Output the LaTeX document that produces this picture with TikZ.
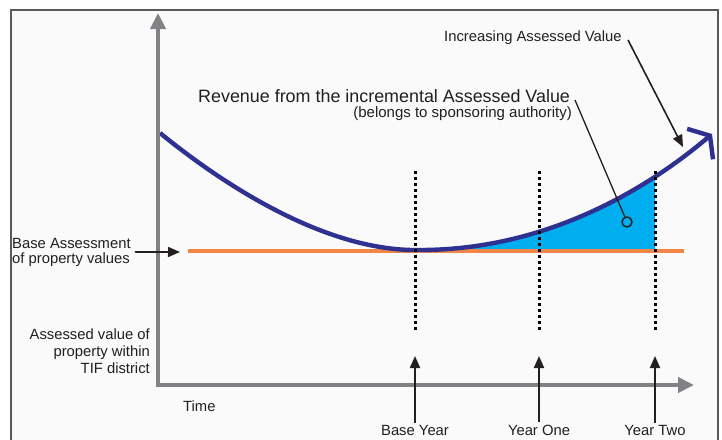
\documentclass[tikz,border=0pt]{standalone}
\usepackage{fontspec}
\setmainfont{Liberation Sans}
\usetikzlibrary{arrows.meta}

\definecolor{schrift}{RGB}{35,31,32}
\definecolor{achsgrau}{RGB}{128,130,133}
\definecolor{rahmengrau}{RGB}{90,90,92}
\definecolor{hinter}{RGB}{250,250,250}
\definecolor{orange}{RGB}{241,134,70}
\definecolor{navy}{RGB}{46,49,146}
\definecolor{cyanblau}{RGB}{0,174,239}

\begin{document}
\begin{tikzpicture}[x=1pt, y=-1pt,
    txt/.style={font=\fontsize{14.8}{15}\selectfont, text=schrift, inner sep=0pt},
    zeiger/.style={draw=schrift, line width=1.6pt, -{Triangle[length=12pt,width=10pt]}},
    achse/.style={draw=achsgrau, line width=4pt,
        {Triangle[length=16pt,width=15pt]}-{Triangle[length=16pt,width=15pt]}},
    punkt/.style={draw=black, line width=3pt, dash pattern=on 3pt off 3pt},
    kurve/.style={draw=navy, line width=4.4pt,
        -{Straight Barb[length=13pt,width=40pt,line width=4.4pt]}},
    marke/.style={circle, draw=schrift, line width=1.4pt, fill=cyanblau,
        minimum size=10pt, inner sep=0pt}]

    % 1. Rahmen und Hintergrund
    \useasboundingbox (0,0) rectangle (722,439);
    \fill[hinter] (11,10) rectangle (718,440);
    \draw[rahmengrau, line width=1.8pt] (11,445) -- (11,10) -- (718,10) -- (718,445);

    % 2. Eckpunkte der Achsen und der Kurve
    \coordinate (O) at (158,385);
    \coordinate (Y) at (158,13);
    \coordinate (X) at (694,385);
    \coordinate (L) at (188,251);
    \coordinate (R) at (684,251);
    \coordinate (M) at (420,250);
    \coordinate (E) at (712,134);

    % Jahre: oberes/unteres Ende der Punktlinie, Pfeilspitze
    \coordinate (J0o) at (415,171); \coordinate (J0u) at (415,331); \coordinate (J0p) at (415,356);
    \coordinate (J1o) at (539,171); \coordinate (J1u) at (539,331); \coordinate (J1p) at (539,356);
    \coordinate (J2o) at (655,171); \coordinate (J2u) at (655,331); \coordinate (J2p) at (655,356);

    % 3. Zuwachsflaeche zwischen Basislinie und Kurve
    \begin{scope}
        \clip (M) rectangle (655,120);
        \fill[cyanblau] (M) .. controls (540,250) and (640,195) .. (E) -- (712,251) -- (420,251) -- cycle;
    \end{scope}

    % Basislinie und Kurve
    \draw[orange, line width=3.6pt] (L) -- (R);
    \draw[kurve] (160,133) .. controls (230,190) and (330,252) .. (M)
        .. controls (540,250) and (640,195) .. (E);

    % Punktlinien der Jahre
    \draw[punkt] (J0o) -- (J0u);
    \draw[punkt] (J1o) -- (J1u);
    \draw[punkt] (J2o) -- (J2u);

    % Achsen
    \draw[achse] (Y) -- (O) -- (X);

    % 4. Beschriftungen
    \node[txt, anchor=base west] (inc) at (444,41) {Increasing Assessed Value};
    \coordinate (Ia) at (628,40);
    \coordinate (Ib) at (683,147);
    \draw[zeiger] (Ia) -- (Ib);

    \node[txt, font=\fontsize{17.9}{20}\selectfont, anchor=base west] (rev) at (198,102)
        {Revenue from the incremental Assessed Value};
    \node[txt, font=\fontsize{15}{17}\selectfont, anchor=base east] (bel) at (572,117)
        {(belongs to sponsoring authority)};
    \coordinate (Ra) at (575,100);
    \node[marke] (K) at (627,222) {};
    \draw[schrift, line width=1.3pt] (Ra) -- (K);

    % mehrzeilige Knoten: base = Grundlinie der letzten Zeile
    \node[txt, anchor=base west, align=left] (basis) at (12,263)
        {Base Assessment\\of property values};
    \coordinate (Bz) at (180,252);
    \draw[zeiger] ([xshift=4pt]basis.east) -- (Bz);

    \node[txt, font=\fontsize{14.8}{16.6}\selectfont, anchor=base east, align=right] (wert) at (150,373)
        {Assessed value of\\property within\\TIF district};

    \node[txt, anchor=base west] (zeit) at (183,411) {Time};

    % Jahre unter der Zeitachse
    \node[txt, anchor=base] (j0) at (415,435.5) {Base Year};
    \node[txt, anchor=base] (j1) at (539,435.5) {Year One};
    \node[txt, anchor=base] (j2) at (655,435.5) {Year Two};
    \draw[zeiger, line width=2pt] ([yshift=2.5pt]j0.north) -- (J0p);
    \draw[zeiger, line width=2pt] ([yshift=2.5pt]j1.north) -- (J1p);
    \draw[zeiger, line width=2pt] ([yshift=2.5pt]j2.north) -- (J2p);

\end{tikzpicture}
\end{document}
